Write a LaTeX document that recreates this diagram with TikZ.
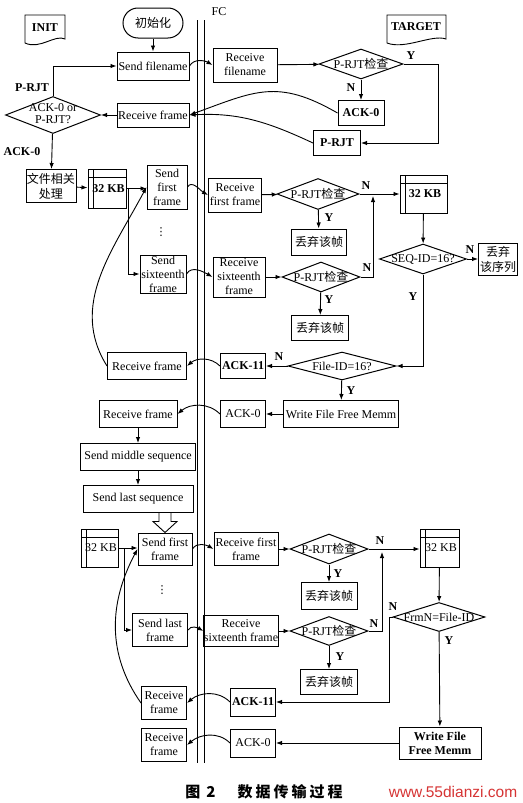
\documentclass[tikz,border=0pt]{standalone}
\usepackage{fontspec}
\setmainfont{Liberation Serif}
\newfontfamily\cjk{Noto Sans CJK SC}
\newfontfamily\wmfont{Liberation Sans}
\newfontfamily\dvfont{DejaVu Sans}
\usetikzlibrary{arrows.meta,shapes.geometric}
\definecolor{wmred}{RGB}{214,52,52}
\newcommand{\mz}[1]{\makebox[0pt]{#1}}
\begin{document}
\begin{tikzpicture}[x=1pt,y=1pt,
  every node/.style={font=\fontsize{12}{14}\selectfont},
  box/.style={draw, rectangle, line width=1pt, inner sep=1pt, align=center},
  sz/.style 2 args={minimum width=#1pt, minimum height=#2pt},
  cjkf/.style={font=\fontsize{12}{15}\selectfont\cjk},
  bf/.style={font=\fontsize{12}{14}\selectfont\bfseries},
  dec/.style={draw, diamond, line width=1pt, inner sep=0pt},
  store/.style={box, bf, path picture={
     \draw[line width=1pt] ([xshift=5pt]path picture bounding box.north west) -- ([xshift=5pt]path picture bounding box.south west);
     \draw[line width=1pt] ([yshift=-8pt]path picture bounding box.north west) -- ([yshift=-8pt]path picture bounding box.north east);}},
  ln/.style={line width=0.9pt},
  arr/.style={line width=0.9pt, -{Latex[length=6pt,width=4.5pt]}},
  lab/.style={font=\fontsize{12}{13}\selectfont\bfseries, inner sep=0pt},
  vdot/.style={font=\fontsize{11}{12}\selectfont\dvfont, inner sep=0pt}
]
\useasboundingbox (0,0) rectangle (522,-803);

% document shapes
\draw[ln] (25,-15) -- (65,-15) -- (65,-39) .. controls (55,-34) and (40,-50) .. (25,-43) -- cycle;
\node[bf] (init) at (45,-28) {INIT};
\draw[ln] (387,-15) -- (446,-15) -- (446,-39) .. controls (432,-34) and (405,-50) .. (387,-43) -- cycle;
\node[bf] (target) at (416,-27) {TARGET};

% FC lines
\node (fc) at (219,-12) {FC};
\draw[ln] (197,-20) -- (197,-763);
\draw[ln] (204,-20) -- (204,-763);

% ---- top section
\node[box, sz={60}{30}, rounded corners=15pt, cjkf] (start) at (153,-23) {初始化};
\node[box, sz={72}{28}] (sfn) at (153,-66) {Send filename};
\node[box, sz={64}{34}] (rfn) at (245,-65) {Receive\\filename};
\node[dec, sz={84}{30}] (d1) at (361,-64) {\mz{P-RJT{\cjk 检查}}};
\node[box, bf, sz={46}{25}] (ack0a) at (361,-113) {ACK-0};
\node[box, bf, sz={47}{25}] (prjt) at (337,-143) {P-RJT};
\node[box, sz={72}{24}] (rf1) at (153,-115) {Receive frame};
\node[dec, sz={95}{37}] (d0) at (53,-115) {\mz{\begin{tabular}{@{}c@{}}ACK-0 or\\[-2pt]P-RJT?\end{tabular}}};
\node[box, sz={49}{33}, cjkf] (wj) at (51,-186) {文件相关\\处理};
\node[store, sz={38}{39}] (kb1) at (107,-188.5) {\hspace{3pt}32 KB};

\coordinate (c1) at (438,-64);
\draw[arr] (start) -- (sfn);
\draw[arr] (sfn.east) to[out=60,in=150] (rfn.west);
\draw[arr] (rfn) -- (d1);
\draw[arr] (d1.east) -- (c1) |- (prjt.east);
\draw[arr] (d1) -- (ack0a);
\draw[arr] (ack0a.west) to[out=150,in=20,looseness=1.2] (rf1.east);
\draw[arr] (prjt.west) to[out=155,in=3] (rf1.east);
\draw[arr] (rf1) -- (d0);
\draw[arr] (d0.north) |- (sfn.west);
\draw[arr] (d0) -- (wj);
\draw[arr] (wj) -- (kb1);
\node[lab] (ly1) at (411,-56) {Y};
\node[lab] (ln1) at (351,-88) {N};
\node[lab] (lp) at (32,-88) {P-RJT};
\node[lab] (la) at (22,-152) {ACK-0};

% ---- first sequence
\node[box, sz={40}{44}] (sf1) at (167,-187) {Send\\first\\frame};
\node[vdot] (dots1) at (161,-232) {⋮};
\node[box, sz={46}{38}, inner sep=0pt] (sf16) at (163,-274) {Send\\sixteenth\\frame};
\node[box, sz={79}{27}] (rf2) at (147,-366) {Receive frame};
\node[box, sz={53}{34}, inner sep=0pt] (rff1) at (235,-195) {Receive\\first frame};
\node[dec, sz={82}{31}] (d2) at (318,-194) {\mz{P-RJT{\cjk 检查}}};
\node[box, sz={55}{26}, cjkf] (dz1) at (319,-242) {丢弃该帧};
\node[store, sz={47}{38}] (kb2) at (423.5,-194) {\hspace{3pt}32 KB};
\node[box, sz={52}{40}, inner sep=0pt] (rs16) at (239,-277) {Receive\\sixteenth\\frame};
\node[dec, sz={78}{30}] (d3) at (321,-277) {\mz{P-RJT{\cjk 检查}}};
\node[box, sz={57}{25}, cjkf] (dz2) at (320,-328) {丢弃该帧};
\node[dec, sz={87}{30}] (dseq) at (423,-259) {\mz{SEQ-ID=16?}};
\node[box, sz={39}{32}, cjkf, inner sep=0pt] (dzx) at (498,-259) {丢弃\\该序列};
\node[dec, sz={108}{28}] (dfile) at (342,-366) {\mz{File-ID=16?}};
\node[box, bf, sz={45}{25}] (ack11a) at (243,-366) {ACK-11};
\node[box, sz={115}{27}] (wf1) at (341,-414) {Write File Free Memm};
\node[box, sz={45}{27}] (ack0b) at (243,-414) {ACK-0};
\node[box, sz={78}{27}] (rf3) at (138,-414) {Receive frame};
\node[box, sz={115}{27}] (sms) at (138,-457) {Send middle sequence};
\node[box, sz={110}{27}] (sls) at (138,-499) {Send last sequence};

\coordinate (j1) at (373,-196);
\draw[arr] (kb1.east) -- (kb1.east -| sf1.west);
\draw[arr] ([xshift=2pt]kb1.east) |- (sf16.west);
\draw[arr] (sf1.east) to[out=60,in=150] (rff1.west);
\draw[arr] (sf16.east) to[out=60,in=150] (rs16.west);
\draw[arr] (rff1) -- (d2);
\draw[arr] (d2) -- (dz1);
\draw[arr] (d2.east) -- (kb2.west |- d2.east);
\draw[arr] (rs16) -- (d3);
\draw[arr] (d3) -- (dz2);
\draw[arr] (d3.east) -| (j1);
\draw[arr] (kb2) -- (dseq);
\draw[arr] (dseq) -- (dzx);
\draw[arr] (dseq.south) |- (dfile.east);
\draw[arr] (dfile) -- (ack11a);
\draw[arr] (ack11a.west) to[out=135,in=40] (rf2.east);
\draw[arr] (dfile) -- (wf1);
\draw[arr] (wf1) -- (ack0b);
\draw[arr] (ack0b.west) to[out=135,in=40] (rf3.east);
\draw[arr] (rf2.west) to[out=122,in=242] (sf1.west);
\draw[arr] (rf3) -- (sms);
\draw[arr] (sms) -- (sls);
\node[lab] (ly2) at (329,-218) {Y};
\node[lab] (ln2) at (366,-186) {N};
\node[lab] (ln3) at (367,-268) {N};
\node[lab] (ly3) at (329,-300) {Y};
\node[lab] (ln4) at (470,-250) {N};
\node[lab] (ly4) at (413,-297) {Y};
\node[lab] (ln5) at (279,-357) {N};
\node[lab] (ly5) at (351,-391) {Y};

% ---- last sequence
\node[box, sz={54}{32}, inner sep=0pt] (sff2) at (165,-549) {Send first\\frame};
\draw[ln] (sff2.north) -- ++(-12,11) -- ++(6,0) -- ++(0,9) -- ++(12,0) -- ++(0,-9) -- ++(6,0) -- cycle;
\node[store, font=\fontsize{12}{14}\selectfont, sz={37}{38}] (kb3) at (99.5,-548) {\hspace{3pt}32 KB};
\node[vdot] (dots2) at (162,-590) {⋮};
\node[box, sz={55}{33}] (slf) at (160,-630) {Send last\\frame};
\node[box, sz={45}{33}] (rfl1) at (164,-703) {Receive\\frame};
\node[box, sz={45}{33}] (rfl2) at (164,-745) {Receive\\frame};
\node[box, sz={64}{33}, inner sep=0pt] (rff2) at (246,-549) {Receive first\\frame};
\node[dec, sz={78}{30}] (d4) at (329,-549) {\mz{P-RJT{\cjk 检查}}};
\node[store, font=\fontsize{12}{14}\selectfont, sz={39}{38}] (kb4) at (439.5,-548) {\hspace{3pt}32 KB};
\node[box, sz={56}{27}, cjkf] (dz3) at (329,-596) {丢弃该帧};
\node[box, sz={74}{31}, inner sep=0pt] (rs16b) at (241,-631) {Receive\\sixteenth frame};
\node[dec, sz={78}{29}] (d5) at (329,-631) {\mz{P-RJT{\cjk 检查}}};
\node[box, sz={57}{25}, cjkf] (dz4) at (329,-682) {丢弃该帧};
\node[dec, sz={92}{29}] (dfrm) at (439,-617) {\mz{FrmN=File-ID}};
\node[box, bf, sz={45}{28}] (ack11b) at (253,-702) {ACK-11};
\node[box, bf, sz={82}{32}] (wf2) at (440,-743) {Write File\\Free Memm};
\node[box, sz={45}{28}] (ack0c) at (253,-743) {ACK-0};

\coordinate (j2) at (382,-552);
\draw[arr] (kb3.east) -- (kb3.east -| sff2.west);
\draw[arr] ([xshift=6pt]kb3.east) |- (slf.west);
\draw[arr] (sff2.east) to[out=60,in=150] (rff2.west);
\draw[arr] (slf.east) to[out=60,in=150] (rs16b.west);
\draw[arr] (rff2) -- (d4);
\draw[arr] (d4.east) -- (kb4.west |- d4.east);
\draw[arr] (d4) -- (dz3);
\draw[arr] (rs16b) -- (d5);
\draw[arr] (d5) -- (dz4);
\draw[arr] (d5.east) -| (j2);
\draw[arr] (kb4) -- (dfrm);
\draw[arr] (dfrm.west) -- ++(-3,0) |- (ack11b.east);
\draw[arr] (dfrm) -- (wf2);
\draw[arr] (wf2) -- (ack0c);
\draw[arr] (ack11b.west) to[out=135,in=40] (rfl1.east);
\draw[arr] (ack0c.west) to[out=135,in=40] (rfl2.east);
\draw[arr] (rfl1.west) to[out=125,in=242] (sff2.west);
\node[lab] (ln6) at (380,-541) {N};
\node[lab] (ly6) at (338,-574) {Y};
\node[lab] (ln7) at (374,-624) {N};
\node[lab] (ly7) at (340,-657) {Y};
\node[lab] (ln8) at (393,-607) {N};
\node[lab] (ly8) at (449,-641) {Y};

% caption and watermark
\node[font=\fontsize{15}{16}\selectfont\cjk\bfseries] (cap) at (264,-792) {图\hspace{6pt}2\hspace{22pt}数\hspace{3pt}据\hspace{3pt}传\hspace{3pt}输\hspace{3pt}过\hspace{3pt}程};
\node[font=\fontsize{15.5}{16}\selectfont\wmfont, text=wmred] (wm) at (453,-792) {www.55dianzi.com};
\end{tikzpicture}
\end{document}
